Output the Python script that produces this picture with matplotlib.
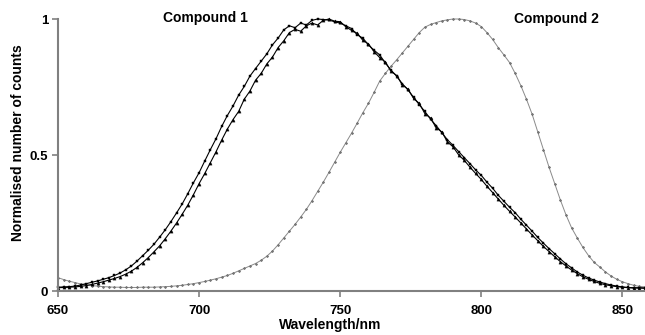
import numpy as np
import matplotlib
matplotlib.use("Agg")
import matplotlib.pyplot as plt

plt.rcParams['font.family'] = ['Liberation Sans', 'DejaVu Sans']

wavelength = list(range(650, 860, 2))

compound1_a = [
    0.014, 0.015, 0.016, 0.018, 0.022, 0.027, 0.032, 0.037, 0.043, 0.049,
    0.057, 0.066, 0.078, 0.092, 0.110, 0.130, 0.150, 0.172, 0.198, 0.225,
    0.255, 0.287, 0.320, 0.358, 0.398, 0.435, 0.478, 0.520, 0.560, 0.605,
    0.645, 0.680, 0.720, 0.752, 0.790, 0.818, 0.845, 0.872, 0.905, 0.930,
    0.960, 0.975, 0.968, 0.985, 0.978, 0.995, 1.000, 0.998, 0.996, 0.990,
    0.985, 0.975, 0.965, 0.942, 0.930, 0.905, 0.885, 0.868, 0.838, 0.812,
    0.790, 0.762, 0.740, 0.712, 0.685, 0.660, 0.632, 0.608, 0.582, 0.556,
    0.535, 0.512, 0.490, 0.468, 0.445, 0.425, 0.400, 0.378, 0.352, 0.330,
    0.308, 0.288, 0.264, 0.242, 0.220, 0.197, 0.176, 0.156, 0.137, 0.118,
    0.100, 0.085, 0.070, 0.058, 0.048, 0.040, 0.033, 0.027, 0.022, 0.018,
    0.015, 0.013, 0.012, 0.012, 0.011,
]

compound1_b = [
    0.012, 0.013, 0.014, 0.015, 0.017, 0.020, 0.024, 0.029, 0.034, 0.040,
    0.046, 0.053, 0.062, 0.073, 0.087, 0.104, 0.123, 0.144, 0.166, 0.192,
    0.220, 0.250, 0.282, 0.316, 0.354, 0.395, 0.432, 0.472, 0.512, 0.555,
    0.595, 0.630, 0.660, 0.705, 0.735, 0.775, 0.800, 0.835, 0.860, 0.895,
    0.920, 0.950, 0.962, 0.955, 0.975, 0.985, 0.978, 0.995, 1.000, 0.992,
    0.990, 0.972, 0.958, 0.948, 0.922, 0.908, 0.880, 0.858, 0.842, 0.808,
    0.792, 0.758, 0.742, 0.708, 0.690, 0.652, 0.636, 0.600, 0.585, 0.548,
    0.530, 0.500, 0.480, 0.455, 0.432, 0.410, 0.385, 0.362, 0.338, 0.315,
    0.293, 0.272, 0.250, 0.228, 0.206, 0.185, 0.164, 0.145, 0.126, 0.108,
    0.092, 0.077, 0.064, 0.052, 0.043, 0.035, 0.028, 0.023, 0.019, 0.016,
    0.014, 0.012, 0.011, 0.011, 0.010,
]

compound2 = [
    0.049, 0.042, 0.036, 0.031, 0.026, 0.023, 0.020, 0.018, 0.016, 0.015,
    0.014, 0.014, 0.013, 0.013, 0.013, 0.014, 0.014, 0.014, 0.015, 0.016,
    0.017, 0.019, 0.021, 0.024, 0.027, 0.031, 0.035, 0.040, 0.045, 0.051,
    0.057, 0.065, 0.074, 0.083, 0.092, 0.101, 0.113, 0.128, 0.147, 0.170,
    0.195, 0.220, 0.245, 0.272, 0.300, 0.332, 0.366, 0.400, 0.436, 0.473,
    0.510, 0.545, 0.580, 0.617, 0.655, 0.690, 0.730, 0.772, 0.800, 0.826,
    0.850, 0.875, 0.900, 0.925, 0.950, 0.970, 0.980, 0.987, 0.993, 0.997,
    1.000, 1.000, 0.998, 0.993, 0.985, 0.972, 0.950, 0.925, 0.895, 0.868,
    0.840, 0.800, 0.755, 0.705, 0.650, 0.585, 0.520, 0.455, 0.395, 0.335,
    0.280, 0.232, 0.195, 0.160, 0.130, 0.105, 0.088, 0.070, 0.055, 0.043,
    0.034, 0.027, 0.021, 0.017, 0.015,
]

x_ticks = [650, 700, 750, 800, 850]
y_ticks = [0, 0.5, 1]
y_tick_labels = ["0", "0.5", "1"]

fig = plt.figure(figsize=(6.45, 3.35), dpi=100)
ax = fig.add_axes([58/645, 44/335, 587/645, 272/335])

ax.plot(wavelength, compound2, color='#8a8a8a', lw=0.7, marker='D',
        markersize=1.3, markerfacecolor='#777777', markeredgecolor='#666666',
        markeredgewidth=0.3, clip_on=False)
ax.plot(wavelength, compound1_b, color='black', lw=0.8, marker='^',
        markersize=2.3, markerfacecolor='black', markeredgecolor='black',
        markeredgewidth=0.3, clip_on=False)
ax.plot(wavelength, compound1_a, color='black', lw=0.8, marker='s',
        markersize=1.9, markerfacecolor='black', markeredgecolor='black',
        markeredgewidth=0.3, clip_on=False)

ax.set_xlim(650, 858)
ax.set_ylim(0, 1)
ax.set_xticks(x_ticks)
ax.set_yticks(y_ticks)
ax.set_yticklabels(y_tick_labels)

for s in ['top', 'right']:
    ax.spines[s].set_visible(False)
for s in ['left', 'bottom']:
    ax.spines[s].set_color('#808080')
    ax.spines[s].set_linewidth(1.5)

ax.tick_params(axis='both', direction='out', length=4, width=1.2,
               color='#808080', labelsize=9.5)
ax.tick_params(axis='x', pad=6)
ax.tick_params(axis='y', pad=3)
for lab in ax.get_xticklabels() + ax.get_yticklabels():
    lab.set_fontweight('bold')

ax.set_xlabel('Wavelength/nm', fontsize=10, fontweight='bold')
ax.set_ylabel('Normalised number of counts', fontsize=10, fontweight='bold')
ax.xaxis.set_label_coords((330 - 58) / 587, ((335 - 325) - 44) / 272)
ax.xaxis.label.set_va('center')
ax.yaxis.set_label_coords((18 - 58) / 587, (291 - 143) / 272)
ax.yaxis.label.set_va('center')

fig.text(205/645, 1 - 18/335, 'Compound 1', fontsize=10, fontweight='bold',
         ha='center', va='center')
fig.text(556/645, 1 - 19/335, 'Compound 2', fontsize=10, fontweight='bold',
         ha='center', va='center')

fig.savefig('out.png', dpi=100)
